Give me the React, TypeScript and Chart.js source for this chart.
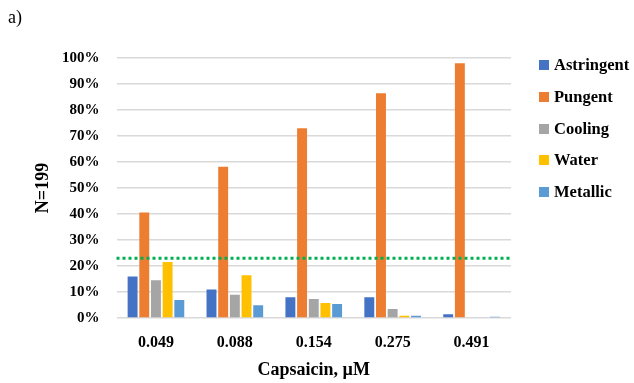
import React, { useEffect, useRef } from 'react';
import { Chart, registerables } from 'chart.js';

Chart.register(...registerables);

const panelLabel = 'a)';
const categories = ['0.049', '0.088', '0.154', '0.275', '0.491'];
const seriesNames = ['Astringent', 'Pungent', 'Cooling', 'Water', 'Metallic'];
const seriesColors = ['#4472C4', '#ED7D31', '#A5A5A5', '#FFC000', '#5B9BD5'];
const astringent = [16, 11, 8, 8, 1.4];
const pungent = [40.6, 58.2, 73, 86.4, 98];
const cooling = [14.5, 8.9, 7.3, 3.5, 0];
const water = [21.5, 16.4, 5.8, 0.9, 0];
const metallic = [6.9, 4.9, 5.4, 0.9, 0.5];
const threshold = 23;
const yMin = 0;
const yMax = 100;
const yStep = 5;
const yLabelStep = 10;
const xTitle = 'Capsaicin, µM';
const yTitle = 'N=199';

const FONT = "'Liberation Serif', serif";

const thresholdPlugin = {
  id: 'thresholdLine',
  afterDatasetsDraw(chart: any) {
    const { ctx, chartArea, scales } = chart;
    const y = scales.y.getPixelForValue(threshold);
    ctx.save();
    ctx.strokeStyle = '#00B050';
    ctx.lineWidth = 3;
    ctx.setLineDash([3, 3]);
    ctx.beginPath();
    ctx.moveTo(chartArea.left, y);
    ctx.lineTo(chartArea.right, y);
    ctx.stroke();
    ctx.restore();
  },
};

export default function App() {
  const canvasRef = useRef<HTMLCanvasElement | null>(null);

  useEffect(() => {
    if (!canvasRef.current) return;
    const values = [astringent, pungent, cooling, water, metallic];
    const chart = new Chart(canvasRef.current, {
      type: 'bar',
      data: {
        labels: categories,
        datasets: seriesNames.map((name, i) => ({
          label: name,
          data: values[i],
          backgroundColor: seriesColors[i],
          borderWidth: 0,
          categoryPercentage: 0.74,
          barPercentage: 0.85,
        })),
      },
      options: {
        animation: false,
        responsive: true,
        maintainAspectRatio: false,
        layout: { padding: { left: 8, right: 123, top: 0, bottom: 0 } },
        font: { family: FONT },
        plugins: {
          title: {
            display: true,
            text: panelLabel,
            align: 'start',
            color: '#000',
            font: { family: FONT, size: 18, weight: 'normal' },
            padding: { top: 7, bottom: 29.4 },
          },
          legend: { display: false },
          tooltip: { enabled: false },
        },
        scales: {
          x: {
            type: 'category',
            position: 'bottom',
            grid: { display: false, drawTicks: false },
            border: { display: false },
            ticks: {
              color: '#000',
              font: { family: FONT, size: 16, weight: 'bold', lineHeight: 1.125 },
              padding: 16,
            },
            title: {
              display: true,
              text: xTitle,
              color: '#000',
              font: { family: FONT, size: 18, weight: 'bold' },
              padding: { top: -8.8, bottom: 2.2 },
            },
          },
          y: {
            type: 'linear',
            position: 'left',
            min: yMin,
            max: yMax,
            border: { display: false },
            grid: {
              drawTicks: false,
              color: (ctx: any) => (ctx.tick && ctx.tick.value % yLabelStep === 0 ? '#D9D9D9' : '#F2F2F2'),
              lineWidth: (ctx: any) => (ctx.tick && ctx.tick.value % yLabelStep === 0 ? 1.5 : 1),
            },
            ticks: {
              stepSize: yStep,
              color: '#000',
              font: { family: FONT, size: 15, weight: 'bold' },
              padding: 17,
              callback: (v: any) => (Number(v) % yLabelStep === 0 ? `${v}%` : ''),
            },
            title: {
              display: true,
              text: yTitle,
              color: '#000',
              font: { family: FONT, size: 18, weight: 'bold' },
              padding: { top: 24.2, bottom: -8.8 },
            },
          },
        },
      },
      plugins: [thresholdPlugin],
    } as any);
    return () => chart.destroy();
  }, []);

  return (
    <div style={{ position: 'absolute', left: 0, top: 0, width: 634, height: 383 }}>
      <canvas ref={canvasRef} />
      <div style={{ position: 'absolute', left: 539, top: 55, fontFamily: FONT }}>
        {seriesNames.map((name, i) => (
          <div
            key={name}
            style={{
              position: 'absolute',
              left: 0,
              top: i * 31.75,
              height: 20,
              display: 'flex',
              alignItems: 'center',
              whiteSpace: 'nowrap',
            }}
          >
            <span
              style={{
                display: 'inline-block',
                width: 10,
                height: 10,
                background: seriesColors[i],
                marginRight: 5,
              }}
            />
            <span style={{ fontSize: 16.5, fontWeight: 'bold', color: '#000', lineHeight: '20px' }}>{name}</span>
          </div>
        ))}
      </div>
    </div>
  );
}
